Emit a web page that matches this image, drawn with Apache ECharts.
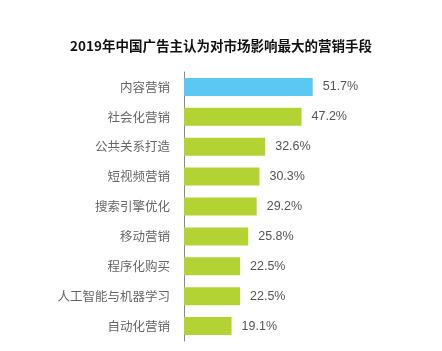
<!DOCTYPE html>
<html>
<head>
<meta charset="utf-8">
<script src="https://cdn.jsdelivr.net/npm/echarts@6/dist/echarts.min.js"></script>
<style>html,body{margin:0;padding:0;background:#fff;}#c{width:442px;height:351px;}</style>
</head>
<body>
<div id="c"></div>
<script>
var titleText = '2019年中国广告主认为对市场影响最大的营销手段';
var categories = ['内容营销','社会化营销','公共关系打造','短视频营销','搜索引擎优化','移动营销','程序化购买','人工智能与机器学习','自动化营销'];
var values = [51.7,47.2,32.6,30.3,29.2,25.8,22.5,22.5,19.1];
var highlightColor = '#5ac8f2';
var baseColor = '#b3d335';

var chart = echarts.init(document.getElementById('c'));
chart.setOption({
  animation: false,
  title: {
    text: titleText,
    left: 'center',
    top: 34,
    textStyle: {fontFamily: 'Noto Sans CJK SC', fontSize: 13.5, fontWeight: 'bold', color: '#111'}
  },
  grid: {left: 184, right: 9, top: 72, bottom: 10},
  xAxis: {type: 'value', min: 0, max: 100, show: false},
  yAxis: {
    type: 'category',
    inverse: true,
    data: categories,
    axisLine: {show: true, lineStyle: {color: '#888', width: 1}},
    axisTick: {show: false},
    axisLabel: {margin: 14, fontFamily: 'Noto Sans CJK SC', fontSize: 12.5, color: '#666'}
  },
  series: [{
    type: 'bar',
    data: values.map(function(v, i){ return {value: v, itemStyle: {color: i === 0 ? highlightColor : baseColor}}; }),
    barWidth: 18,
    label: {show: true, position: 'right', distance: 10, formatter: '{c}%', fontFamily: 'Liberation Sans', fontSize: 12.5, color: '#555'}
  }]
});
</script>
</body>
</html>
